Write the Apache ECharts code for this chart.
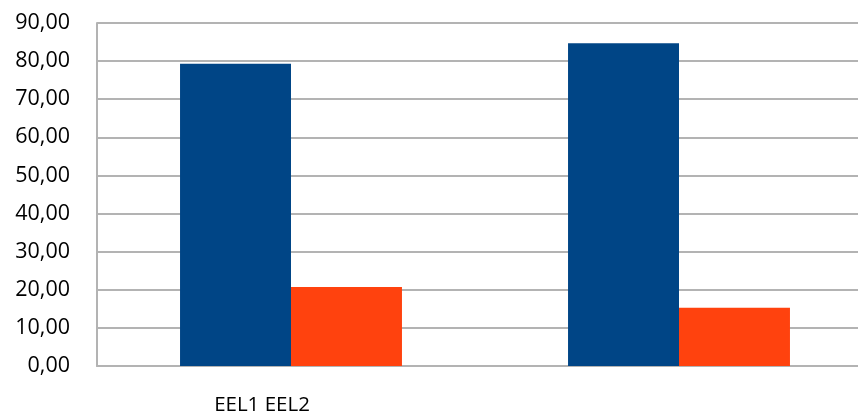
<!DOCTYPE html>
<html>
<head>
<meta charset="utf-8">
<script src="https://cdn.jsdelivr.net/npm/echarts@6/dist/echarts.min.js"></script>
<style>
html,body{margin:0;padding:0;background:#fff;}
#chart{width:858px;height:414px;}
</style>
</head>
<body>
<div id="chart"></div>
<script>
const categories = ['EEL1 EEL2', ''];
const seriesA = [79.3, 84.7];
const seriesB = [20.7, 15.3];
const yMin = 0, yMax = 90, yStep = 10;

const chart = echarts.init(document.getElementById('chart'));
chart.setOption({
  animation: false,
  backgroundColor: '#ffffff',
  grid: { left: 97, right: -15, top: 23, bottom: 48, containLabel: false, outerBoundsMode: 'none' },
  xAxis: {
    type: 'category',
    data: categories,
    axisLine: { show: true, lineStyle: { color: '#b3b3b3', width: 2 } },
    axisTick: { show: false },
    axisLabel: {
      color: '#000', fontFamily: 'Open Sans', fontSize: 20.5, margin: 29,
      padding: [0, 58, 0, 0]
    }
  },
  yAxis: {
    type: 'value', min: yMin, max: yMax, interval: yStep,
    axisLine: { show: true, lineStyle: { color: '#b3b3b3', width: 2 } },
    axisTick: { show: false },
    splitLine: { show: true, lineStyle: { color: '#b3b3b3', width: 2 } },
    axisLabel: {
      color: '#000', fontFamily: 'Open Sans', fontSize: 21.5, margin: 27,
      formatter: v => v.toFixed(2).replace('.', ',')
    }
  },
  series: [
    { type: 'bar', data: seriesA, itemStyle: { color: '#004586' }, barGap: '0%', barCategoryGap: '42.8%' },
    { type: 'bar', data: seriesB, itemStyle: { color: '#ff420e' }, barGap: '0%', barCategoryGap: '42.8%' }
  ]
});
</script>
</body>
</html>
